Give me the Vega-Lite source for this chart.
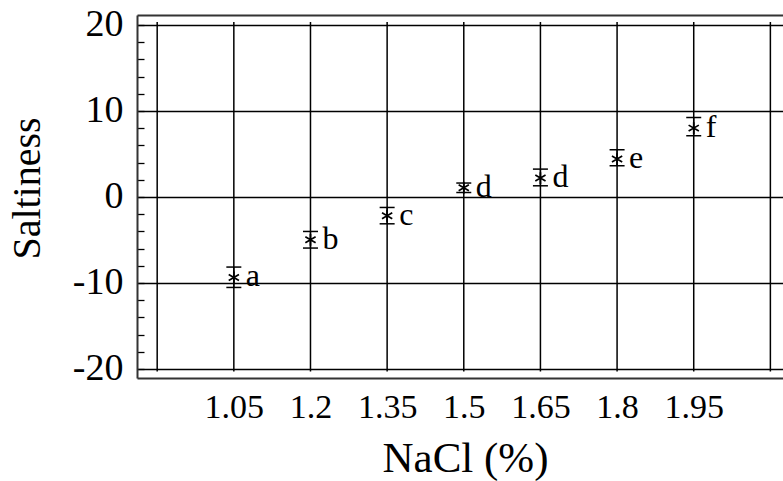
{
  "$schema": "https://vega.github.io/schema/vega-lite/v6.json",
  "autosize": "none",
  "padding": {"left": 137, "top": 15, "right": 0, "bottom": 103},
  "width": 646,
  "height": 363,
  "background": "white",
  "config": {"view": {"stroke": null}, "font": "Liberation Serif"},
  "datasets": {
    "pts": [
      {"nacl": 1.05, "s": -9.36, "lo": -10.52, "hi": -8.15, "g": "a"},
      {"nacl": 1.2, "s": -4.98, "lo": -5.94, "hi": -4.01, "g": "b"},
      {"nacl": 1.35, "s": -2.19, "lo": -3.12, "hi": -1.22, "g": "c"},
      {"nacl": 1.5, "s": 1.07, "lo": 0.52, "hi": 1.62, "g": "d"},
      {"nacl": 1.65, "s": 2.2, "lo": 1.3, "hi": 3.24, "g": "d"},
      {"nacl": 1.8, "s": 4.41, "lo": 3.63, "hi": 5.49, "g": "e"},
      {"nacl": 1.95, "s": 8.01, "lo": 7.12, "hi": 9.24, "g": "f"}
    ],
    "gx": [
      {"v": 0.9}, {"v": 1.05}, {"v": 1.2}, {"v": 1.35}, {"v": 1.5},
      {"v": 1.65}, {"v": 1.8}, {"v": 1.95}, {"v": 2.1}
    ]
  },
  "layer": [
    {
      "data": {"name": "gx"},
      "mark": {"type": "rule", "color": "black", "strokeWidth": 1.5},
      "encoding": {
        "x": {
          "field": "v", "type": "quantitative",
          "scale": {"domain": [0.8605, 2.1247], "nice": false, "zero": false},
          "axis": {"orient": "top", "labels": false, "ticks": false, "grid": false, "domain": true, "domainColor": "#333", "domainWidth": 2, "title": null}
        },
        "y": {"datum": -20.3, "type": "quantitative", "scale": {"domain": [-21.05, 21.16], "nice": false, "zero": false}},
        "y2": {"datum": 20.35}
      }
    },
    {
      "data": {"name": "pts"},
      "mark": {"type": "rule", "color": "black", "strokeWidth": 1.3},
      "encoding": {
        "x": {
          "field": "nacl", "type": "quantitative",
          "scale": {"domain": [0.8605, 2.1247], "nice": false, "zero": false},
          "axis": {
            "orient": "bottom",
            "values": [1.05, 1.2, 1.35, 1.5, 1.65, 1.8, 1.95],
            "tickCount": 40,
            "labelExpr": "toString(datum.value)",
            "labelOverlap": false,
            "labelFlush": false,
            "grid": false,
            "ticks": false,
            "domain": true,
            "domainColor": "#333",
            "domainWidth": 2,
            "labelFont": "Liberation Serif",
            "labelFontSize": 34,
            "labelColor": "black",
            "labelPadding": 12,
            "title": "NaCl (%)",
            "titleFont": "Liberation Serif",
            "titleFontSize": 43,
            "titleFontWeight": "normal",
            "titleColor": "black",
            "titlePadding": 13,
            "titleX": 328
          }
        },
        "y": {
          "field": "lo", "type": "quantitative",
          "scale": {"domain": [-21.05, 21.16], "nice": false, "zero": false},
          "axis": {
            "orient": "left",
            "title": "Saltiness",
            "values": [-20, -18, -16, -14, -12, -10, -8, -6, -4, -2, 0, 2, 4, 6, 8, 10, 12, 14, 16, 18, 20],
            "tickCount": 40,
            "labelExpr": "datum.value % 10 === 0 ? toString(datum.value) : ''",
            "labelOverlap": false,
            "grid": true,
            "gridColor": "black",
            "gridWidth": 1.5,
            "gridOpacity": {"condition": {"test": "datum.value % 10 === 0", "value": 1}, "value": 0},
            "ticks": true,
            "tickSize": -7,
            "tickColor": "black",
            "tickWidth": 1.3,
            "domain": true,
            "domainColor": "#333",
            "domainWidth": 2,
            "labelFont": "Liberation Serif",
            "labelFontSize": 38,
            "labelColor": "black",
            "labelPadding": 21,
            "titleFont": "Liberation Serif",
            "titleFontSize": 40,
            "titleFontWeight": "normal",
            "titleColor": "black",
            "titlePadding": 25,
            "titleY": 173
          }
        },
        "y2": {"field": "hi"}
      }
    },
    {
      "data": {"name": "pts"},
      "mark": {"type": "point", "shape": "M-1,0L1,0", "filled": false, "stroke": "black", "strokeWidth": 1.5, "size": 225, "opacity": 1},
      "encoding": {
        "x": {"field": "nacl", "type": "quantitative", "scale": {"domain": [0.8605, 2.1247], "nice": false, "zero": false}, "axis": null},
        "y": {"field": "lo", "type": "quantitative", "scale": {"domain": [-21.05, 21.16], "nice": false, "zero": false}}
      }
    },
    {
      "data": {"name": "pts"},
      "mark": {"type": "point", "shape": "M-1,0L1,0", "filled": false, "stroke": "black", "strokeWidth": 1.5, "size": 225, "opacity": 1},
      "encoding": {
        "x": {"field": "nacl", "type": "quantitative", "scale": {"domain": [0.8605, 2.1247], "nice": false, "zero": false}, "axis": null},
        "y": {"field": "hi", "type": "quantitative", "scale": {"domain": [-21.05, 21.16], "nice": false, "zero": false}}
      }
    },
    {
      "data": {"name": "pts"},
      "mark": {"type": "point", "shape": "M0,-1L0,1M-0.866,-0.5L0.866,0.5M-0.866,0.5L0.866,-0.5", "filled": false, "stroke": "black", "strokeWidth": 1.7, "size": 140, "opacity": 1},
      "encoding": {
        "x": {"field": "nacl", "type": "quantitative", "scale": {"domain": [0.8605, 2.1247], "nice": false, "zero": false}, "axis": null},
        "y": {"field": "s", "type": "quantitative", "scale": {"domain": [-21.05, 21.16], "nice": false, "zero": false}}
      }
    },
    {
      "data": {"name": "pts"},
      "mark": {"type": "text", "font": "Liberation Serif", "fontSize": 32, "align": "left", "baseline": "alphabetic", "dx": 12, "dy": 9, "color": "black"},
      "encoding": {
        "x": {"field": "nacl", "type": "quantitative", "scale": {"domain": [0.8605, 2.1247], "nice": false, "zero": false}, "axis": null},
        "y": {"field": "s", "type": "quantitative", "scale": {"domain": [-21.05, 21.16], "nice": false, "zero": false}},
        "text": {"field": "g", "type": "nominal"}
      }
    }
  ],
  "resolve": {"axis": {"x": "independent", "y": "shared"}}
}
